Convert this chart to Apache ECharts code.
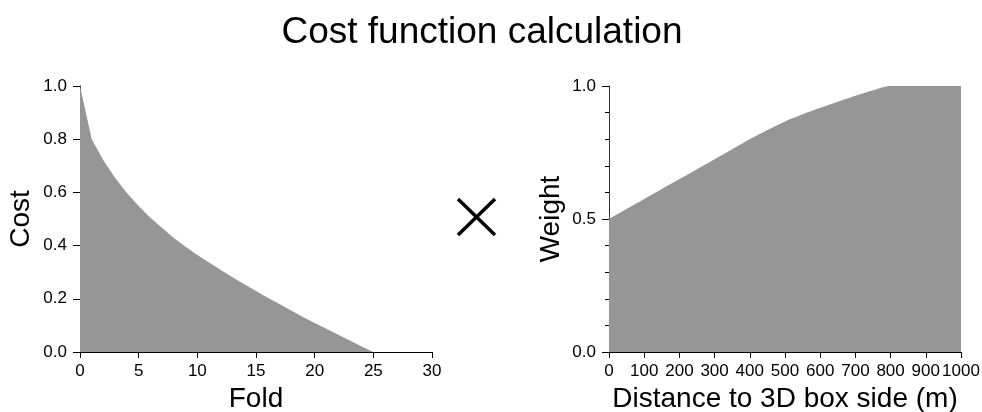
<!DOCTYPE html>
<html>
<head>
<meta charset="utf-8">
<script src="https://cdn.jsdelivr.net/npm/echarts@6/dist/echarts.min.js"></script>
<style>
  html, body { margin: 0; padding: 0; background: #fff; }
  #chart { width: 982px; height: 412px; }
</style>
</head>
<body>
<div id="chart"></div>
<script>
// Cost as a function of fold count
const foldX = [0, 1, 2, 3, 4, 5, 6, 7, 8, 9, 10, 11, 12, 13, 14, 15, 16, 17, 18, 19, 20, 21, 22, 23, 24, 25];
const costY = [1.0, 0.80, 0.72, 0.654, 0.598, 0.549, 0.505, 0.466, 0.429, 0.396, 0.365, 0.336, 0.308, 0.281, 0.255, 0.229, 0.204, 0.180, 0.156, 0.132, 0.109, 0.087, 0.065, 0.043, 0.021, 0.0];

// Weight as a function of distance to the box side
const distX = [0, 50, 100, 150, 200, 250, 300, 350, 400, 450, 500, 550, 600, 650, 700, 750, 800, 850, 900, 950, 1000];
const weightY = [0.5, 0.5375, 0.575, 0.6125, 0.65, 0.6875, 0.725, 0.7625, 0.800, 0.835, 0.867, 0.894, 0.918, 0.941, 0.963, 0.984, 1.0, 1.0, 1.0, 1.0, 1.0];

const FONT = '"Liberation Sans", Arial, Helvetica, sans-serif';
const FILL = '#969696';

const pairs = (xs, ys) => xs.map((x, i) => [x, ys[i]]);

const axisLineStyle = { color: '#000', width: 1 };
const labelStyle = { color: '#000', fontSize: 17, fontFamily: FONT };
const nameStyle = { color: '#000', fontSize: 28, fontFamily: FONT };

const chart = echarts.init(document.getElementById('chart'), null, { renderer: 'canvas' });
chart.setOption({
  animation: false,
  backgroundColor: '#fff',
  title: {
    text: 'Cost function calculation',
    left: 477,
    textAlign: 'center',
    top: 9,
    textStyle: { color: '#000', fontSize: 37, fontWeight: 'normal', fontFamily: FONT }
  },
  grid: [
    { left: 80, top: 86, width: 352, height: 266, outerBoundsMode: 'none', containLabel: false },
    { left: 609, top: 86, width: 352, height: 266, outerBoundsMode: 'none', containLabel: false }
  ],
  xAxis: [
    {
      gridIndex: 0, type: 'value', min: 0, max: 30, interval: 5,
      name: 'Fold', nameLocation: 'middle', nameGap: 32, nameTextStyle: nameStyle,
      axisLine: { show: true, onZero: false, lineStyle: axisLineStyle },
      axisTick: { show: true, length: 6, lineStyle: axisLineStyle },
      axisLabel: Object.assign({ margin: 11 }, labelStyle),
      splitLine: { show: false }
    },
    {
      gridIndex: 1, type: 'value', min: 0, max: 1000, interval: 100,
      name: 'Distance to 3D box side (m)', nameLocation: 'middle', nameGap: 32, nameTextStyle: nameStyle,
      axisLine: { show: true, onZero: false, lineStyle: axisLineStyle },
      axisTick: { show: true, length: 6, lineStyle: axisLineStyle },
      axisLabel: Object.assign({ margin: 11, hideOverlap: false, formatter: v => String(v) }, labelStyle),
      splitLine: { show: false }
    }
  ],
  yAxis: [
    {
      gridIndex: 0, type: 'value', min: 0, max: 1, interval: 0.2,
      name: 'Cost', nameLocation: 'middle', nameGap: 45, nameTextStyle: nameStyle,
      axisLine: { show: true, onZero: false, lineStyle: { color: '#333', width: 1 } },
      axisTick: { show: true, length: 7, lineStyle: axisLineStyle },
      axisLabel: Object.assign({ margin: 13, formatter: v => v.toFixed(1) }, labelStyle),
      splitLine: { show: false }
    },
    {
      gridIndex: 1, type: 'value', min: 0, max: 1, interval: 0.5,
      name: 'Weight', nameLocation: 'middle', nameGap: 44, nameTextStyle: nameStyle,
      axisLine: { show: true, onZero: false, lineStyle: { color: '#333', width: 1 } },
      axisTick: { show: true, length: 7, lineStyle: axisLineStyle },
      minorTick: { show: true, splitNumber: 5, length: 4, lineStyle: { color: '#000', width: 1 } },
      axisLabel: Object.assign({ margin: 13, formatter: v => v.toFixed(1) }, labelStyle),
      splitLine: { show: false },
      minorSplitLine: { show: false }
    }
  ],
  series: [
    {
      type: 'line', xAxisIndex: 0, yAxisIndex: 0,
      data: pairs(foldX, costY),
      showSymbol: false, symbol: 'none',
      lineStyle: { width: 0 },
      areaStyle: { color: FILL, opacity: 1 },
      z: 1
    },
    {
      type: 'line', xAxisIndex: 1, yAxisIndex: 1,
      data: pairs(distX, weightY),
      showSymbol: false, symbol: 'none',
      smooth: 0.3,
      lineStyle: { width: 0 },
      areaStyle: { color: FILL, opacity: 1 },
      z: 1
    }
  ],
  graphic: [
    // multiplication sign between the two panels
    { type: 'line', shape: { x1: 458, y1: 199, x2: 495, y2: 235 }, style: { stroke: '#000', lineWidth: 3.5 } },
    { type: 'line', shape: { x1: 495, y1: 199, x2: 458, y2: 235 }, style: { stroke: '#000', lineWidth: 3.5 } }
  ]
});
</script>
</body>
</html>
